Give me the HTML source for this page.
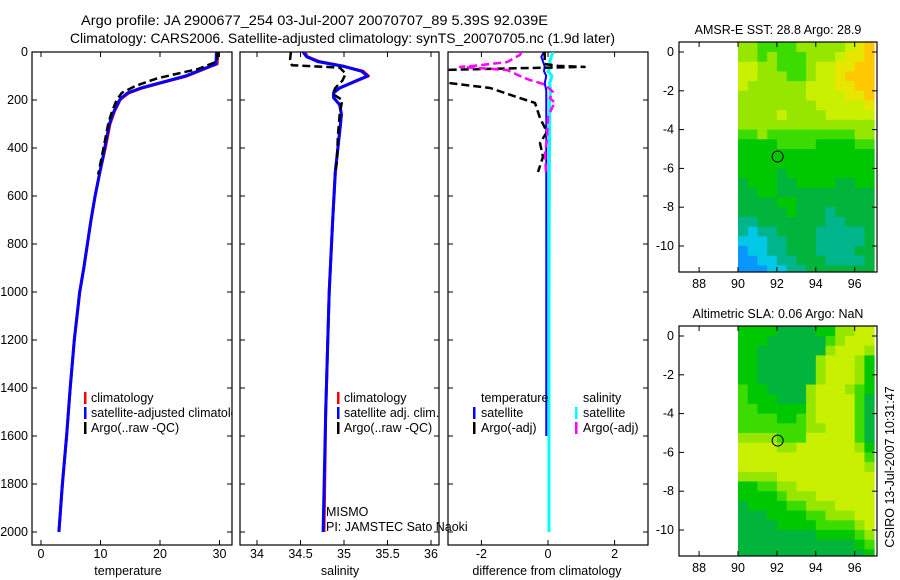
<!DOCTYPE html>
<html><head><meta charset="utf-8"><style>
html,body{margin:0;padding:0;background:#fff;}
svg{display:block;font-family:"Liberation Sans",sans-serif;font-size:12.5px;}
</style></head><body>
<svg id="chart" width="900" height="580" viewBox="0 0 900 580"></svg>
<script>
// ---------- DATA ----------
const tempDepth = [0,50,60,80,100,130,150,170,190,200,250,300,400,500,600,700,800,900,1000,1200,1400,1600,1800,2000];
const tempClim  = [29.7,29.6,28.5,26.5,24.5,20,17,14.8,13.7,13.3,12.3,11.6,10.8,9.9,9.1,8.4,7.8,7.2,6.5,5.6,4.9,4.3,3.6,3.0];
const tempSat   = [29.5,29.4,28.4,26.3,24.3,19.8,16.8,14.6,13.6,13.2,12.2,11.5,10.7,9.9,9.1,8.4,7.8,7.2,6.5,5.6,4.9,4.3,3.6,3.0];
const argoTDepth = [0,40,50,70,90,110,140,170,200,250,300,400,500,510];
const argoT      = [29.7,29.6,28.5,26.5,23,19.5,16,13.6,12.7,11.9,11.3,10.5,9.7,9.6];

const salDepth = [0,20,40,60,80,100,120,150,170,190,220,260,300,400,500,700,1000,1500,2000];
const salClim  = [34.55,34.58,34.72,35.0,35.22,35.28,35.15,34.95,34.88,34.88,34.95,34.97,34.96,34.93,34.9,34.87,34.83,34.79,34.77];
const salSat   = [34.53,34.57,34.7,35.0,35.2,35.27,35.14,34.95,34.88,34.88,34.95,34.97,34.96,34.93,34.9,34.87,34.83,34.79,34.76];
const argoSDepth = [0,30,55,65,90,120,150,175,200,220,260,350,450,510];
const argoS      = [34.39,34.38,34.40,34.95,35.02,34.98,34.9,34.87,34.98,34.97,34.95,34.93,34.92,34.9];

const diffTSatDepth = [0,20,40,60,80,100,130,160,200,300,500,1000,1600];
const diffTSat      = [-0.12,-0.2,-0.15,-0.1,-0.12,-0.05,-0.1,-0.05,-0.05,-0.05,-0.05,-0.05,-0.05];
const diffSSatDepth = [0,20,40,60,80,100,130,160,200,300,500,1000,2000];
const diffSSat      = [0.15,0.1,0.05,0.1,0.0,0.12,0.05,0.08,0.05,0.05,0.04,0.03,0.03];
const diffTArgoDepth = [0,50,58,62,68,75,120,133,150,192,212,275,333,379,437,500];
const diffTArgo      = [-0.1,-0.1,0.3,1.1,-1,-3.2,-3.5,-2.76,-1.74,-0.84,-0.39,-0.24,-0.03,-0.24,-0.15,-0.3];
const diffSArgoDepth = [0,12,42,50,58,62,75,100,117,129,137,167,192,212,233,271,367,421,504];
const diffSArgo      = [-0.8,-0.84,-1.23,-1.74,-2.25,-2.64,-1.23,-0.84,-0.54,-0.24,-0.09,0.15,0.06,0.21,0.12,0,-0.03,-0.09,-0.06];

const depthTicks = [0,200,400,600,800,1000,1200,1400,1600,1800,2000];
const tempTicks = [0,10,20,30];
const salTicks = [34,34.5,35,35.5,36];
const salTickLabels = ["34","34.5","35","35.5","36"];
const diffTicks = [-2,0,2];
const lonTicks = [88,90,92,94,96];
const latTicks = [0,-2,-4,-6,-8,-10];

// heatmap rows: lat 0.5 → -11.5 in 0.5° steps, cols lon 90 → 97 in 0.5° steps; digits = colour level
const sstGrid = [
"66555566666789","66565556667889","77665556778899","77666556778999","76666667778899","66666667777889",
"66666666777778","66667666677777","66666666666666","55655555555566","44445555444455","44444444444444",
"44444444444444","44443444444444","34443344443344","33443333333333","33334433333333","33333433323333",
"22333333322333","21223333222223","11122333222223","01122333222233","00112233322223","00011223333333"];
const slaGrid = [
"44443333446677","44433333356777","44333333367776","44333333677764","44333333677764","44333333677764",
"54433336777654","54443336777753","55444446777753","55554456777753","55555556677753","66665557777753",
"77776677777764","77777777777775","77777777777776","66667777777777","44556677777777","44445666777777",
"34444556667777","33344445566677","33334444555567","33333333444456","33333333333345","33333333333334"];
const levelColors = ["#0a96ff","#00c8e6","#00b48c","#00b43c","#00c800","#3cdc00","#96e600","#c8f000","#e6e600","#ffc800"];
const argoLon = 92.039, argoLat = -5.39;

// ---------- HELPERS ----------
const svg = document.getElementById('chart');
const NS = 'http://www.w3.org/2000/svg';
function el(tag, attrs, parent){ const e=document.createElementNS(NS,tag); for(const k in attrs) e.setAttribute(k,attrs[k]); (parent||svg).appendChild(e); return e; }
function txt(x,y,s,anchor,parent,extra){ const t=el('text',Object.assign({x:x,y:y,'text-anchor':anchor||'start',fill:'#000'},extra||{}),parent); t.textContent=s; return t; }

const TOP=52, BOT=545, D0y=52, Dpx=0.24;
function yD(d){ return D0y + d*Dpx; }

function axesBox(x0,x1,name){
  const r = el('rect',{x:x0,y:TOP,width:x1-x0,height:BOT-TOP,fill:'none',stroke:'#000','stroke-width':1.2});
  
  
}
function depthTickMarks(x0,x1,labels){
  depthTicks.forEach(d=>{
    const y=yD(d);
    el('line',{x1:x0,x2:x0+5,y1:y,y2:y,stroke:'#000'});
    el('line',{x1:x1-5,x2:x1,y1:y,y2:y,stroke:'#000'});
    if(labels){ const t=txt(x0-4,y+4,String(d),'end');   }
  });
}
function xTicks(vals,labs,fx){
  vals.forEach((v,i)=>{
    const x=fx(v);
    el('line',{x1:x,x2:x,y1:BOT,y2:BOT-5,stroke:'#000'});
    el('line',{x1:x,x2:x,y1:TOP,y2:TOP+5,stroke:'#000'});
    const t=txt(x,BOT+13,labs[i],'middle');  
  });
}
function line(xs,ds,fx,color,w,dash,name,clip){
  const pts = xs.map((v,i)=>fx(v).toFixed(1)+','+yD(ds[i]).toFixed(1)).join(' ');
  const a={points:pts,fill:'none',stroke:color,'stroke-width':w,'stroke-linejoin':'round'};
  if(dash) a['stroke-dasharray']=dash;
  if(clip) a['clip-path']='url(#'+clip+')';
  const p=el('polyline',a);
  
  
}
function legendMark(x,y,color){ el('rect',{x:x,y:y-10,width:2.5,height:12,fill:color}); }

const defs = el('defs',{});
function clipRect(id,x0,x1){ const c=el('clipPath',{id:id},defs); el('rect',{x:x0,y:TOP,width:x1-x0,height:BOT-TOP},c); }

// ---------- TITLES ----------
let t = txt(81,25,'Argo profile: JA 2900677_254 03-Jul-2007 20070707_89 5.39S 92.039E','start',null,{'font-size':'14px',textLength:467,lengthAdjust:'spacingAndGlyphs'});
 
t = txt(70,43,'Climatology: CARS2006. Satellite-adjusted climatology: synTS_20070705.nc (1.9d later)','start',null,{'font-size':'14px',textLength:545,lengthAdjust:'spacingAndGlyphs'});
 

// ---------- PANEL 1: TEMPERATURE ----------
const fT = v => 41 + v*5.95;
clipRect('c1',32,232);
axesBox(32,232,'temperature-axes');
depthTickMarks(32,232,true);
xTicks(tempTicks,tempTicks.map(String),fT);
line(tempClim,tempDepth,fT,'#ff0000',3,null,'temperature-climatology-line','c1');
line(tempSat,tempDepth,fT,'#0000ff',3,null,'temperature-satellite-line','c1');
line(argoT,argoTDepth,fT,'#000',2.5,'8,4','temperature-argo-line','c1');
t=txt(128,575,'temperature','middle');  
const lg1 = el('g',{'clip-path':'url(#c1)'});
 
legendMark(84,402,'#ff0000'); txt(91,402,'climatology','start',lg1);
legendMark(84,417,'#0000ff'); txt(91,417,'satellite-adjusted climatology','start',lg1);
legendMark(84,432,'#000'); txt(91,432,'Argo(..raw -QC)','start',lg1);

// ---------- PANEL 2: SALINITY ----------
const fS = v => 257 + (v-34)*87;
clipRect('c2',240,439);
axesBox(240,439,'salinity-axes');
depthTickMarks(240,439,false);
xTicks(salTicks,salTickLabels,fS);
line(salClim,salDepth,fS,'#ff0000',3,null,'salinity-climatology-line','c2');
line(salSat,salDepth,fS,'#0000ff',3,null,'salinity-satellite-line','c2');
line(argoS,argoSDepth,fS,'#000',2.5,'8,4','salinity-argo-line','c2');
t=txt(340,575,'salinity','middle');  
legendMark(337,402,'#ff0000'); txt(344,402,'climatology');
legendMark(337,417,'#0000ff'); txt(344,417,'satellite adj. clim.');
legendMark(337,432,'#000'); txt(344,432,'Argo(..raw -QC)');
t=txt(326,516,'MISMO');  
t=txt(326,531,'PI: JAMSTEC Sato Naoki');  

// ---------- PANEL 3: DIFFERENCE ----------
const fD = v => 548 + v*33.3;
clipRect('c3',448,648);
axesBox(448,648,'difference-axes');
depthTickMarks(448,648,false);
xTicks(diffTicks,diffTicks.map(String),fD);
line(diffSSat,diffSSatDepth,fD,'#00ffff',3,null,'salinity-satellite-diff-line','c3');
line(diffTSat,diffTSatDepth,fD,'#0000ff',2,null,'temperature-satellite-diff-line','c3');
line(diffTArgo,diffTArgoDepth,fD,'#000',2.5,'8,4','temperature-argo-diff-line','c3');
line(diffSArgo,diffSArgoDepth,fD,'#ff00ff',2.5,'8,4','salinity-argo-diff-line','c3');
t=txt(547,575,'difference from climatology','middle');  
txt(481,402,'temperature'); txt(583,402,'salinity');
legendMark(473,417,'#0000ff'); txt(481,417,'satellite');
legendMark(473,432,'#000'); txt(481,432,'Argo(-adj)');
legendMark(575,417,'#00ffff'); txt(583,417,'satellite');
legendMark(575,432,'#ff00ff'); txt(583,432,'Argo(-adj)');

// ---------- MAPS ----------
function drawMap(y0,grid,title,name){
  const x0=679,x1=877,h=230;
  const fx = lon => 738 + (lon-90)*19.45;
  const fy = lat => (y0+10) - lat*19.4;
  const g = el('g',{});
  
  
  grid.forEach((row,r)=>{
    for(let c=0;c<row.length;c++){
      const lon=90+c*0.5, lat=0.5-r*0.5;
      const xa=fx(lon), xb=Math.min(fx(lon+0.5),x1), ya=Math.max(fy(lat),y0), yb=Math.min(fy(lat-0.5),y0+h);
      const cell=el('rect',{x:xa,y:ya,width:xb-xa+0.5,height:yb-ya+0.5,fill:levelColors[+row[c]]},g);
      
      
    }
  });
  const m=el('circle',{cx:fx(argoLon),cy:fy(argoLat),r:5.5,fill:'none',stroke:'#000','stroke-width':1});
   
  const b=el('rect',{x:x0,y:y0,width:x1-x0,height:h,fill:'none',stroke:'#000','stroke-width':1.2});
   
  lonTicks.forEach(l=>{ const x=fx(l); el('line',{x1:x,x2:x,y1:y0,y2:y0+5,stroke:'#000'}); el('line',{x1:x,x2:x,y1:y0+h,y2:y0+h-5,stroke:'#000'}); txt(x,y0+h+16,String(l),'middle'); });
  latTicks.forEach(l=>{ const y=fy(l); el('line',{x1:x0,x2:x0+5,y1:y,y2:y,stroke:'#000'}); el('line',{x1:x1-5,x2:x1,y1:y,y2:y,stroke:'#000'}); txt(x0-5,y+4,String(l),'end'); });
  const tt=txt(778,y0-8,title,'middle');  
}
drawMap(42,sstGrid,'AMSR-E SST: 28.8 Argo: 28.9','sst-map');
drawMap(326,slaGrid,'Altimetric SLA: 0.06 Argo: NaN','sla-map');

t=txt(0,0,'CSIRO 13-Jul-2007 10:31:47','middle',null,{transform:'translate(894,467) rotate(-90)'});
 
</script>
</body></html>
